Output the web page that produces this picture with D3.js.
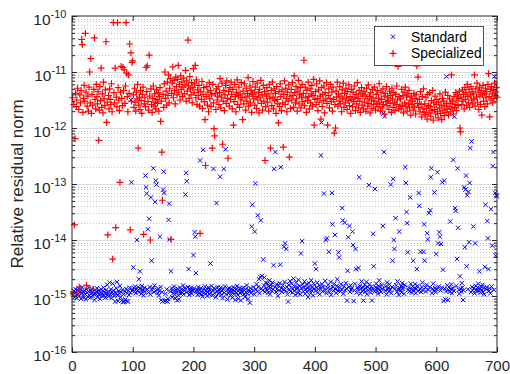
<!DOCTYPE html>
<html>
<head>
<meta charset="utf-8">
<script src="https://cdn.jsdelivr.net/npm/d3@7"></script>
<style>
  html, body { margin: 0; padding: 0; background: #fff; }
  svg { display: block; }
</style>
</head>
<body>
<script>
// ---- data -------------------------------------------------------------
const xTickValues = [0, 100, 200, 300, 400, 500, 600, 700];
const yDecadeExps = [-16, -15, -14, -13, -12, -11, -10];
const seriesNames = ["Standard", "Specialized"];

// log10 of the relative residual norm, one value per test problem (1..700)
const standardExp = [
  -14.95,-14.98,-14.91,-15.02,-14.93,-14.88,-14.97,-15.04,-14.90,-14.96,-14.86,-15.00,-14.93,-14.89,-15.05,-14.94,-14.84,-14.99,-14.92,-15.03,
  -14.90,-14.97,-15.06,-14.88,-14.94,-15.01,-14.92,-14.85,-14.99,-15.03,-14.91,-14.95,-14.87,-15.00,-14.93,-14.97,-15.07,-14.89,-14.96,-14.92,
  -14.86,-15.02,-14.94,-14.90,-14.98,-15.05,-14.93,-14.88,-14.96,-15.00,-14.91,-14.85,-14.99,-14.94,-15.03,-14.89,-14.95,-14.80,-14.97,-15.01,
  -14.92,-14.76,-14.98,-14.88,-15.04,-14.93,-14.78,-14.96,-14.90,-15.00,-15.10,-14.94,-14.86,-14.75,-14.99,-15.09,-14.91,-14.95,-14.82,-15.02,
  -14.93,-15.08,-14.89,-15.11,-14.97,-15.10,-14.92,-15.06,-14.87,-15.09,-14.95,-15.10,-14.90,-14.98,-14.85,-14.94,-11.50,-12.97,-14.91,-14.88,
  -14.49,-14.86,-14.92,-14.83,-14.95,-14.88,-14.00,-14.90,-14.84,-14.70,-14.93,-14.56,-14.87,-14.96,-14.82,-14.91,-14.89,-14.99,-14.85,-14.92,
  -12.85,-13.06,-13.17,-14.88,-13.81,-14.94,-13.62,-14.84,-14.97,-13.24,-14.37,-14.90,-14.86,-12.72,-14.93,-14.81,-13.32,-12.94,-13.01,-14.89,
  -14.95,-14.87,-14.99,-14.91,-13.94,-14.84,-15.07,-14.93,-15.10,-13.10,-12.78,-13.16,-15.09,-14.96,-15.08,-14.88,-15.10,-15.05,-13.64,-13.35,
  -13.99,-14.92,-14.56,-14.86,-15.02,-14.90,-14.95,-14.83,-14.97,-15.04,-14.89,-14.93,-15.08,-14.87,-14.99,-15.06,-14.91,-14.85,-14.96,-14.92,
  -14.88,-14.94,-14.81,-14.97,-14.90,-14.86,-13.19,-12.80,-12.95,-14.93,-14.84,-14.52,-14.98,-14.89,-14.92,-14.85,-14.96,-14.88,-14.91,-14.27,
  -14.87,-13.86,-13.94,-14.59,-14.93,-14.89,-14.98,-14.84,-14.95,-14.90,-12.58,-14.86,-14.97,-14.92,-15.01,-12.39,-14.88,-14.94,-14.83,-14.96,
  -14.91,-14.87,-15.00,-14.93,-14.85,-14.97,-14.89,-14.42,-14.94,-14.82,-14.99,-14.90,-12.73,-14.86,-14.95,-14.88,-15.02,-13.34,-14.92,-14.84,
  -14.96,-14.89,-14.93,-12.87,-14.85,-14.98,-14.91,-15.04,-14.87,-12.73,-14.94,-14.83,-12.38,-14.97,-14.90,-15.06,-14.88,-14.95,-14.86,-14.92,
  -14.99,-14.87,-14.93,-15.03,-14.89,-14.84,-14.96,-14.91,-15.07,-14.88,-14.94,-14.82,-14.98,-15.05,-14.90,-14.86,-14.95,-15.08,-14.92,-14.87,
  -14.93,-14.85,-14.97,-14.90,-15.02,-14.88,-14.94,-14.81,-14.96,-15.05,-14.89,-14.92,-15.12,-14.86,-14.95,-13.76,-13.37,-14.90,-14.84,-14.97,
  -13.85,-12.99,-14.88,-14.79,-14.92,-13.56,-14.84,-14.70,-14.95,-14.66,-13.65,-14.87,-14.64,-14.90,-14.35,-14.81,-14.67,-14.93,-14.76,-14.86,
  -14.89,-14.78,-14.94,-14.83,-14.72,-14.97,-14.85,-14.80,-14.91,-14.76,-14.88,-14.45,-12.73,-14.84,-12.43,-14.93,-14.79,-14.87,-15.00,-14.82,
  -14.90,-14.77,-14.44,-12.70,-14.86,-14.93,-14.81,-14.88,-14.12,-14.75,-14.06,-14.91,-14.16,-14.84,-14.97,-15.10,-14.80,-14.89,-14.73,-14.92,
  -14.85,-14.78,-14.94,-14.87,-14.69,-14.91,-14.83,-14.98,-14.76,-14.88,-14.84,-14.95,-14.71,-14.90,-14.82,-14.97,-14.24,-14.86,-14.02,-14.79,
  -14.92,-14.85,-14.74,-14.96,-14.88,-14.80,-14.93,-14.86,-15.02,-14.77,-14.89,-14.83,-14.95,-14.72,-14.90,-14.84,-14.99,-14.78,-14.87,-14.42,
  -14.91,-14.52,-14.85,-14.76,-14.94,-14.88,-14.81,-14.97,-14.86,-12.49,-11.90,-14.79,-14.92,-14.84,-13.17,-14.89,-14.73,-14.00,-14.95,-13.97,
  -14.86,-14.80,-14.21,-14.93,-14.87,-14.75,-14.98,-13.16,-13.72,-14.84,-14.90,-14.78,-13.91,-14.88,-14.95,-14.82,-14.70,-14.91,-14.22,-14.31,
  -14.85,-14.92,-14.79,-14.88,-13.43,-13.65,-14.96,-14.83,-13.69,-14.90,-14.77,-14.87,-15.08,-14.55,-13.95,-14.84,-13.75,-14.93,-14.81,-14.89,
  -14.86,-13.85,-14.09,-15.09,-14.90,-14.78,-14.16,-14.52,-14.94,-14.85,-14.88,-14.50,-12.88,-14.82,-14.96,-14.87,-14.74,-14.91,-14.84,-15.08,
  -14.89,-14.80,-14.93,-14.86,-14.75,-14.97,-14.84,-14.90,-13.02,-14.79,-14.88,-14.94,-14.83,-15.08,-14.87,-13.89,-14.47,-14.92,-13.09,-14.85,
  -14.78,-14.91,-14.86,-14.96,-14.82,-14.72,-14.89,-14.84,-14.93,-14.80,-14.87,-13.75,-11.74,-12.43,-11.79,-14.90,-14.83,-14.97,-14.76,-14.88,
  -14.85,-14.92,-14.79,-14.89,-13.01,-14.95,-14.84,-14.37,-12.91,-14.00,-14.16,-14.87,-13.61,-14.81,-14.93,-14.74,-14.88,-14.98,-13.85,-14.86,
  -14.90,-14.82,-14.94,-14.77,-14.87,-14.84,-14.96,-14.80,-12.70,-12.98,-13.50,-13.70,-14.22,-14.89,-14.85,-14.92,-13.24,-14.78,-14.88,-14.94,
  -14.83,-14.37,-14.90,-14.86,-14.79,-14.95,-14.87,-14.52,-14.82,-14.91,-13.16,-13.39,-14.88,-14.21,-14.93,-14.84,-14.76,-14.90,-14.21,-13.72,
  -14.37,-14.85,-14.92,-14.80,-13.88,-13.99,-14.89,-13.52,-14.84,-13.47,-12.88,-12.72,-14.95,-14.87,-14.78,-14.91,-13.15,-14.86,-14.93,-14.25,
  -14.88,-12.79,-14.06,-14.83,-13.86,-13.94,-14.90,-14.07,-14.85,-12.97,-14.53,-15.09,-12.94,-14.87,-15.06,-14.92,-11.08,-14.81,-15.07,-14.89,
  -14.84,-14.93,-13.67,-14.88,-14.79,-14.95,-14.86,-12.57,-14.91,-11.80,-13.43,-13.48,-14.82,-14.34,-12.72,-13.78,-14.89,-14.96,-14.65,-14.87,
  -14.92,-14.77,-14.85,-15.07,-14.90,-13.06,-14.13,-13.10,-12.85,-14.47,-13.20,-14.88,-13.14,-14.04,-12.98,-12.36,-14.93,-12.24,-14.84,-14.90,
  -13.76,-14.86,-14.95,-14.06,-14.82,-14.89,-14.92,-14.85,-14.78,-14.91,-14.56,-14.87,-14.94,-14.83,-14.89,-14.80,-14.93,-14.86,-14.97,-14.48,
  -13.37,-14.88,-14.84,-13.66,-13.97,-14.52,-14.91,-14.86,-14.95,-13.45,-14.83,-14.10,-12.68,-12.43,-14.89,-11.08,-13.16,-14.28,-13.20,-13.22
];

const specializedExp = [
  -11.46,-14.95,-11.58,-13.73,-12.19,-11.38,-11.62,-11.50,-11.29,-14.95,-11.67,-14.84,-11.41,-11.55,-11.33,-10.42,-10.51,-11.72,-11.47,-11.24,
  -11.52,-10.31,-11.36,-14.81,-11.61,-11.43,-11.70,-11.27,-11.00,-11.55,-10.76,-11.74,-11.40,-11.59,-14.88,-11.31,-10.39,-11.49,-11.66,-11.22,
  -11.44,-11.57,-11.35,-12.22,-11.68,-11.26,-11.51,-10.93,-11.63,-11.39,-11.73,-11.18,-11.48,-11.60,-11.32,-10.46,-11.90,-11.54,-13.91,-11.42,
  -11.66,-11.30,-11.49,-11.58,-11.21,-11.71,-14.34,-10.12,-11.37,-11.55,-10.93,-13.78,-11.45,-11.62,-10.12,-11.28,-11.50,-11.69,-12.97,-11.36,
  -10.90,-11.47,-11.60,-10.92,-11.33,-10.96,-11.56,-11.25,-10.12,-11.02,-11.44,-11.71,-11.05,-11.38,-10.50,-13.82,-10.66,-11.52,-10.83,-10.80,
  -11.41,-11.63,-11.29,-11.54,-11.70,-11.36,-11.48,-11.22,-12.36,-11.59,-11.45,-11.67,-11.33,-11.51,-11.74,-11.40,-11.27,-13.90,-11.57,-11.46,
  -11.62,-10.92,-11.35,-10.89,-11.53,-11.68,-10.70,-11.43,-14.00,-11.30,-11.58,-11.72,-11.47,-11.25,-11.61,-11.39,-11.54,-11.66,-11.32,-11.49,
  -11.56,-11.37,-11.70,-11.44,-11.28,-11.88,-11.52,-12.43,-13.29,-11.40,-11.63,-11.21,-11.00,-11.47,-11.34,-11.59,-11.18,-11.42,-11.05,-11.55,
  -11.29,-11.12,-13.99,-11.38,-11.20,-10.91,-11.46,-11.15,-11.33,-11.57,-11.09,-11.26,-11.41,-11.13,-10.88,-11.36,-11.22,-11.50,-11.07,-11.31,
  -11.18,-11.44,-11.27,-11.11,-11.39,-11.23,-10.97,-11.52,-11.16,-11.34,-10.43,-11.25,-11.47,-11.08,-11.30,-11.41,-11.19,-11.55,-11.28,-10.94,
  -11.37,-11.21,-10.88,-11.46,-11.14,-11.58,-11.32,-11.42,-11.24,-11.61,-13.88,-11.35,-11.49,-11.17,-11.65,-11.40,-11.28,-11.53,-11.85,-12.67,
  -11.44,-11.26,-11.59,-11.36,-11.71,-11.19,-11.48,-11.33,-11.62,-11.41,-12.36,-11.22,-11.55,-12.01,-12.14,-11.38,-11.67,-11.30,-11.50,-11.43,
  -11.26,-11.58,-11.37,-11.12,-11.64,-11.45,-11.20,-12.29,-11.52,-11.33,-11.69,-11.41,-11.24,-11.56,-11.16,-11.47,-12.54,-11.35,-11.61,-11.28,
  -11.49,-11.18,-11.40,-11.66,-11.31,-11.95,-11.53,-11.22,-11.44,-11.71,-11.36,-11.14,-11.58,-11.42,-11.27,-11.63,-11.39,-11.50,-11.19,-11.46,
  -11.85,-11.34,-11.57,-11.21,-11.45,-11.68,-11.29,-11.52,-11.38,-11.10,-11.61,-11.43,-11.25,-11.55,-11.33,-11.72,-11.40,-11.17,-11.48,-11.36,
  -11.59,-11.27,-11.44,-11.65,-11.20,-11.50,-11.37,-11.73,-11.31,-11.46,-11.15,-11.56,-11.41,-11.68,-11.24,-11.52,-11.35,-12.58,-11.62,-11.43,
  -11.28,-11.54,-11.39,-11.70,-11.22,-11.47,-12.36,-11.33,-11.60,-11.18,-11.45,-11.66,-11.30,-11.51,-11.38,-11.74,-11.26,-11.49,-11.57,-11.91,
  -11.35,-11.62,-11.21,-11.44,-11.69,-11.32,-11.55,-12.34,-11.40,-11.16,-11.58,-11.29,-11.47,-11.71,-11.36,-11.52,-11.23,-12.52,-11.43,-11.65,
  -11.31,-11.50,-11.19,-11.42,-11.63,-11.07,-11.37,-11.55,-11.26,-11.48,-11.70,-11.34,-11.15,-11.57,-11.41,-11.28,-11.64,-11.45,-11.22,-11.53,
  -11.38,-10.79,-11.60,-11.27,-11.46,-11.72,-11.33,-11.51,-11.18,-11.44,-11.66,-11.30,-11.55,-11.39,-11.24,-11.61,-11.42,-11.13,-11.95,-11.49,
  -11.35,-11.58,-11.21,-11.47,-11.69,-11.32,-11.54,-11.16,-11.43,-11.84,-11.28,-11.62,-11.40,-11.51,-11.25,-11.73,-11.37,-11.48,-11.19,-11.56,
  -11.95,-11.42,-11.30,-11.64,-11.47,-11.22,-11.53,-11.36,-11.70,-11.27,-11.49,-12.09,-11.58,-12.00,-11.34,-11.45,-11.18,-11.61,-11.39,-11.52,
  -11.26,-11.57,-11.43,-11.71,-11.32,-11.48,-11.20,-11.63,-11.38,-11.55,-11.29,-11.46,-11.67,-11.35,-11.51,-11.23,-11.60,-11.44,-11.74,-11.31,
  -11.49,-11.62,-11.36,-11.53,-11.25,-11.45,-11.69,-11.40,-11.57,-11.19,-11.47,-11.64,-11.33,-11.52,-11.72,-11.38,-11.28,-11.59,-11.43,-11.66,
  -11.35,-11.54,-11.41,-11.70,-11.29,-11.48,-11.61,-11.23,-11.56,-11.44,-11.73,-11.37,-11.50,-11.65,-11.31,-11.46,-11.58,-11.27,-11.52,-11.68,
  -11.40,-11.57,-11.33,-11.62,-11.47,-11.21,-11.55,-11.70,-11.36,-11.49,-11.64,-11.30,-11.58,-11.43,-11.75,-11.38,-11.53,-11.26,-11.60,-11.45,
  -11.51,-11.67,-11.34,-11.56,-11.42,-11.72,-11.29,-11.48,-11.63,-11.37,-11.55,-11.69,-11.40,-11.58,-11.25,-11.50,-10.90,-11.66,-11.44,-11.61,
  -11.48,-11.66,-11.31,-11.59,-11.42,-11.73,-11.36,-11.55,-11.27,-11.62,-11.45,-11.70,-11.39,-11.57,-11.33,-11.64,-11.50,-11.77,-11.43,-11.58,
  -11.52,-11.68,-11.38,-11.61,-11.47,-11.75,-11.41,-10.89,-11.56,-11.09,-11.63,-11.49,-11.71,-11.35,-11.58,-11.80,-11.44,-11.66,-11.30,-11.72,
  -11.57,-11.76,-11.46,-11.65,-11.84,-11.40,-11.60,-11.73,-11.37,-11.62,-11.79,-11.51,-11.69,-11.33,-11.86,-11.55,-11.67,-11.43,-11.75,-11.58,
  -11.49,-11.71,-11.82,-11.54,-11.64,-11.39,-11.74,-11.59,-11.85,-11.47,-11.68,-11.52,-11.78,-11.61,-11.36,-11.72,-11.56,-11.66,-11.42,-11.77,
  -11.62,-11.48,-11.71,-11.56,-11.05,-11.66,-11.52,-11.75,-11.44,-11.63,-11.58,-11.37,-11.69,-11.50,-11.41,-11.60,-11.47,-11.34,-12.00,-12.07,
  -11.45,-11.58,-11.32,-11.52,-11.40,-11.66,-11.28,-11.49,-11.37,-11.60,-11.22,-11.44,-11.55,-11.31,-11.63,-11.41,-11.26,-11.50,-11.35,-11.57,
  -11.39,-11.48,-11.05,-11.61,-11.30,-11.45,-11.20,-11.54,-11.36,-11.67,-11.27,-11.43,-11.58,-11.33,-11.77,-11.41,-11.24,-11.52,-11.38,-11.62,
  -11.29,-11.46,-11.35,-11.57,-11.22,-11.03,-11.44,-11.80,-11.31,-11.50,-11.26,-11.39,-11.55,-11.33,-11.47,-11.20,-11.42,-11.36,-11.28,-11.45
];

// ---- layout -----------------------------------------------------------
const W = 510, H = 374;
const plot = { left: 72, right: 497, top: 16, bottom: 352 };
const axisColor = "#262626";
const FONT = "'Liberation Sans', Arial, Helvetica, sans-serif";

const svg = d3.select("body").append("svg")
  .attr("width", W).attr("height", H)
  .style("font-family", FONT);

const x = d3.scaleLinear().domain([0, 700]).range([plot.left, plot.right]);
const y = d3.scaleLog().domain([1e-16, 1e-10]).range([plot.bottom, plot.top]);

const decadeVals = yDecadeExps.map(e => Math.pow(10, e));
const minorVals = [];
yDecadeExps.slice(0, -1).forEach(e => {
  for (let k = 2; k <= 9; k++) minorVals.push(k * Math.pow(10, e));
});

// ---- grid -------------------------------------------------------------
const grid = svg.append("g");
grid.selectAll("line.minor").data(minorVals).join("line")
  .attr("class", "minor")
  .attr("x1", plot.left).attr("x2", plot.right)
  .attr("y1", d => Math.round(y(d)) + 0.5).attr("y2", d => Math.round(y(d)) + 0.5)
  .attr("stroke", "#b4b4b4").attr("stroke-width", 0.8)
  .attr("stroke-dasharray", "1 2");
grid.selectAll("line.major").data(decadeVals.slice(1, -1)).join("line")
  .attr("class", "major")
  .attr("x1", plot.left).attr("x2", plot.right)
  .attr("y1", d => Math.round(y(d)) + 0.5).attr("y2", d => Math.round(y(d)) + 0.5)
  .attr("stroke", "#dcdcdc").attr("stroke-width", 1);

// ---- markers ----------------------------------------------------------
const crossPath = "M-2.2,-2.2L2.2,2.2M-2.2,2.2L2.2,-2.2";
const plusPath = "M-3.4,0H3.4M0,-3.4V3.4";

const stdPts = standardExp.map((e, i) => ({ i: i + 1, v: Math.pow(10, e) }));
const specPts = specializedExp.map((e, i) => ({ i: i + 1, v: Math.pow(10, e) }));

svg.append("g").selectAll("path").data(stdPts).join("path")
  .attr("d", crossPath)
  .attr("transform", d => `translate(${x(d.i)},${y(d.v)})`)
  .attr("fill", "none").attr("stroke", "#0000ff").attr("stroke-width", 1);

svg.append("g").selectAll("path").data(specPts).join("path")
  .attr("d", plusPath)
  .attr("transform", d => `translate(${x(d.i)},${y(d.v)})`)
  .attr("fill", "none").attr("stroke", "#ff0000").attr("stroke-width", 1.2);

// ---- axes -------------------------------------------------------------
function styleAxis(g) {
  g.select(".domain").remove();
  g.selectAll(".tick line").attr("stroke", axisColor);
  g.selectAll(".tick text").attr("fill", axisColor).style("font-family", FONT);
}

// bottom x axis with labels
svg.append("g").attr("transform", `translate(0,${plot.bottom})`)
  .call(d3.axisBottom(x).tickValues(xTickValues).tickSizeInner(-5).tickSizeOuter(0).tickPadding(8))
  .call(styleAxis)
  .selectAll(".tick text").attr("font-size", 15);

// top x axis, ticks only
svg.append("g").attr("transform", `translate(0,${plot.top})`)
  .call(d3.axisTop(x).tickValues(xTickValues).tickSizeInner(-5).tickSizeOuter(0).tickFormat(""))
  .call(styleAxis);

// left y axis: decade labels as 10 with a superscript exponent
const gyL = svg.append("g").attr("transform", `translate(${plot.left},0)`)
  .call(d3.axisLeft(y).tickValues(decadeVals).tickSizeInner(-5).tickSizeOuter(0).tickPadding(5.5))
  .call(styleAxis);
gyL.selectAll(".tick text").each(function (d) {
  const t = d3.select(this);
  t.text(null).attr("dy", "0.56em").attr("font-size", 15.5);
  t.append("tspan").text("10");
  t.append("tspan").attr("dy", -7.5).attr("font-size", 11).text(String(Math.round(Math.log10(d))));
});
svg.append("g").attr("transform", `translate(${plot.left},0)`)
  .call(d3.axisLeft(y).tickValues(minorVals).tickSizeInner(-3).tickSizeOuter(0).tickFormat(""))
  .call(styleAxis);

// right y axis, ticks only
svg.append("g").attr("transform", `translate(${plot.right},0)`)
  .call(d3.axisRight(y).tickValues(decadeVals).tickSizeInner(-5).tickSizeOuter(0).tickFormat(""))
  .call(styleAxis);
svg.append("g").attr("transform", `translate(${plot.right},0)`)
  .call(d3.axisRight(y).tickValues(minorVals).tickSizeInner(-3).tickSizeOuter(0).tickFormat(""))
  .call(styleAxis);

// axes box
svg.append("rect")
  .attr("x", plot.left).attr("y", plot.top)
  .attr("width", plot.right - plot.left).attr("height", plot.bottom - plot.top)
  .attr("fill", "none").attr("stroke", axisColor).attr("stroke-width", 1);

// y axis title
svg.append("text")
  .attr("transform", `translate(23,${(plot.top + plot.bottom) / 2}) rotate(-90)`)
  .attr("text-anchor", "middle")
  .attr("font-size", 17)
  .attr("fill", axisColor)
  .text("Relative residual norm");

// ---- legend -----------------------------------------------------------
const legend = svg.append("g");
legend.append("rect")
  .attr("x", 374.5).attr("y", 26.5).attr("width", 109).attr("height", 39)
  .attr("fill", "#fff").attr("stroke", axisColor).attr("stroke-width", 0.8);
const legendMarks = [crossPath, plusPath];
const legendColors = ["#0000ff", "#ff0000"];
const legendWidths = [1, 1.2];
seriesNames.forEach((name, k) => {
  const cy = 36.7 + k * 16.6;
  legend.append("path").attr("d", legendMarks[k])
    .attr("transform", `translate(393,${cy})`)
    .attr("fill", "none").attr("stroke", legendColors[k]).attr("stroke-width", legendWidths[k]);
  legend.append("text")
    .attr("x", 411).attr("y", cy + 5)
    .attr("font-size", 13.8).attr("fill", "#000")
    .text(name);
});
</script>
</body>
</html>
